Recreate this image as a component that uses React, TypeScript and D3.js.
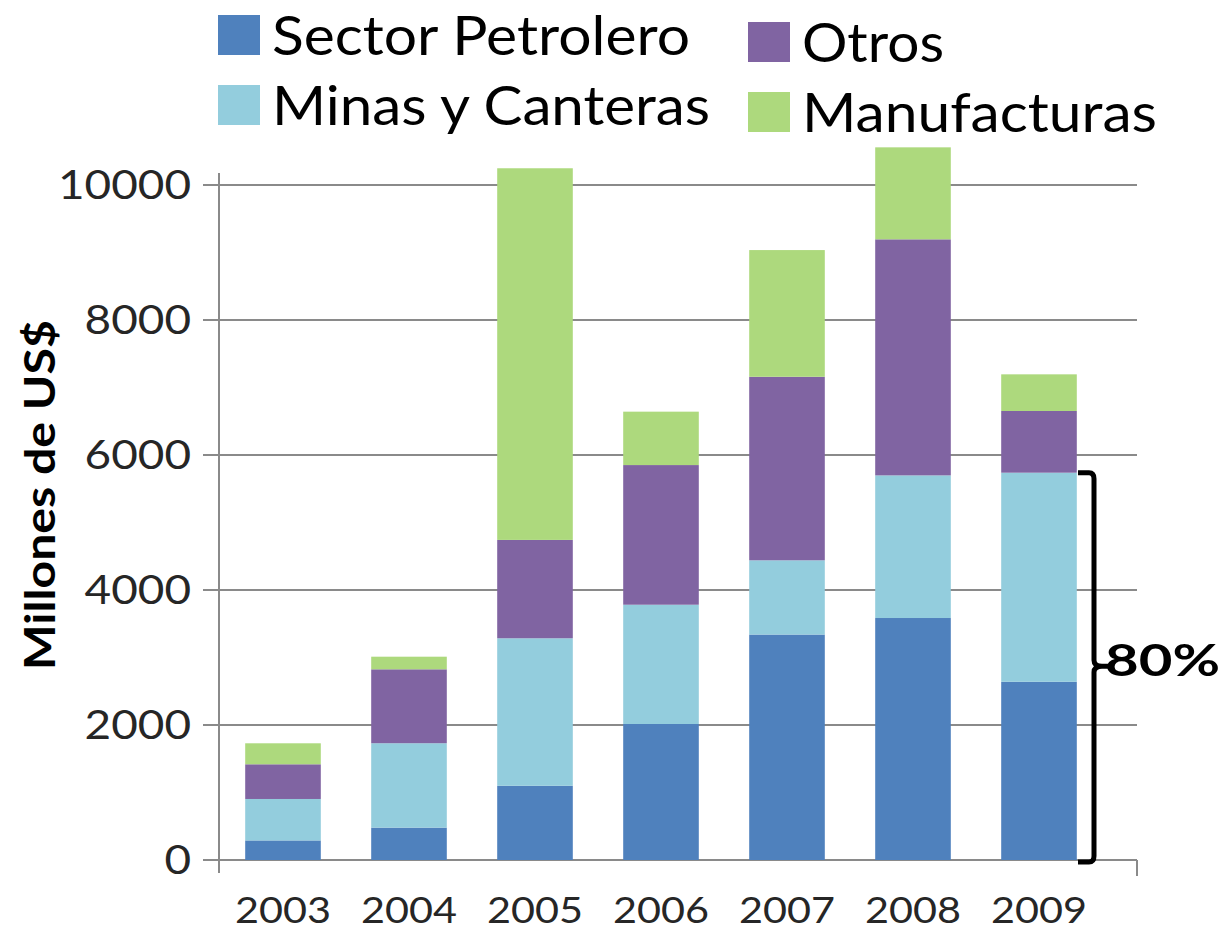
import React, { useEffect, useRef } from "react";
import * as d3 from "d3";

const years = ["2003", "2004", "2005", "2006", "2007", "2008", "2009"];
const seriesNames = ["Sector Petrolero", "Minas y Canteras", "Otros", "Manufacturas"];
const sectorPetrolero = [290, 480, 1100, 2015, 3340, 3585, 2640];
const minasCanteras = [614, 1250, 2185, 1767, 1100, 2113, 3098];
const otros = [514, 1095, 1457, 2069, 2719, 3497, 914];
const manufacturas = [311, 187, 5506, 791, 1877, 1363, 543];
const colors = ["#4F81BD", "#93CDDD", "#8064A2", "#ADD97D"];
const yTicks = [0, 2000, 4000, 6000, 8000, 10000];
const bracketLabel = "80%";

const FONT = "Lato, 'Open Sans', sans-serif";

export default function App() {
  const ref = useRef<SVGSVGElement | null>(null);

  useEffect(() => {
    const svg = d3.select(ref.current);
    svg.selectAll("*").remove();

    const values = [sectorPetrolero, minasCanteras, otros, manufacturas];
    const rows = years.map((y, i) => {
      const r: any = { year: y };
      seriesNames.forEach((s, k) => (r[s] = values[k][i]));
      return r;
    });
    const stacked = d3.stack().keys(seriesNames)(rows);

    const x = d3.scaleBand().domain(years).range([220, 1102]).paddingInner(0.4).paddingOuter(0.2);
    const y = d3.scaleLinear().domain([0, 10000]).range([860, 185]);
    const left = 219, right = 1137;

    // gridlines
    svg.append("g")
      .selectAll("line")
      .data(yTicks)
      .join("line")
      .attr("x1", left - 16)
      .attr("x2", right)
      .attr("y1", d => y(d))
      .attr("y2", d => y(d))
      .attr("stroke", "#8a8a8a")
      .attr("stroke-width", 2);

    // axis lines
    svg.append("line")
      .attr("x1", left).attr("x2", left)
      .attr("y1", 173).attr("y2", 873)
      .attr("stroke", "#8a8a8a").attr("stroke-width", 2);
    svg.append("line")
      .attr("x1", right).attr("x2", right)
      .attr("y1", 860).attr("y2", 876)
      .attr("stroke", "#8a8a8a").attr("stroke-width", 2);

    // bars
    svg.append("g")
      .selectAll("g")
      .data(stacked)
      .join("g")
      .attr("fill", (d, i) => colors[i])
      .selectAll("rect")
      .data(d => d)
      .join("rect")
      .attr("x", d => x(d.data.year as string)!)
      .attr("width", x.bandwidth())
      .attr("y", d => y(d[1]))
      .attr("height", d => y(d[0]) - y(d[1]));

    // y tick labels
    svg.append("g")
      .selectAll("text")
      .data(yTicks)
      .join("text")
      .attr("x", 191)
      .attr("y", d => y(d))
      .attr("dy", "0.36em")
      .attr("text-anchor", "end")
      .attr("font-family", FONT)
      .attr("font-size", 40)
      .attr("fill", "#262626")
      .attr("textLength", d => String(d).length * 26.6)
      .attr("lengthAdjust", "spacingAndGlyphs")
      .text(d => String(d));

    // x labels
    svg.append("g")
      .selectAll("text")
      .data(years)
      .join("text")
      .attr("x", d => x(d)! + x.bandwidth() / 2)
      .attr("y", 910)
      .attr("dy", "0.36em")
      .attr("text-anchor", "middle")
      .attr("font-family", FONT)
      .attr("font-size", 37)
      .attr("fill", "#262626")
      .attr("textLength", 96)
      .attr("lengthAdjust", "spacingAndGlyphs")
      .text(d => d);

    // y title
    svg.append("text")
      .attr("transform", "translate(55,495) rotate(-90)")
      .attr("text-anchor", "middle")
      .attr("font-family", FONT)
      .attr("font-weight", "bold")
      .attr("font-size", 42)
      .attr("fill", "#000")
      .attr("textLength", 350)
      .attr("lengthAdjust", "spacingAndGlyphs")
      .text("Millones de US$");

    // legend
    const legendPos = [
      [218, 15], [218, 85], [748, 22], [748, 92]
    ];
    const legendWidths = [418, 438, 142, 355];
    const lg = svg.append("g");
    seriesNames.forEach((s, i) => {
      const [lx, ly] = legendPos[i];
      lg.append("rect").attr("x", lx).attr("y", ly).attr("width", 42).attr("height", 40).attr("fill", colors[i]);
      lg.append("text")
        .attr("x", lx + 54)
        .attr("y", ly + 40)
        .attr("font-family", FONT)
        .attr("font-size", 54)
        .attr("fill", "#000")
        .attr("textLength", legendWidths[i])
        .attr("lengthAdjust", "spacingAndGlyphs")
        .text(s);
    });

    // bracket for last year (Sector + Minas)
    const last = years.length - 1;
    const topV = sectorPetrolero[last] + minasCanteras[last];
    const yTop = y(topV), yBot = y(0);
    const bx = 1094;
    const yMid = yBot - (yBot - yTop) * 0.5;
    const path = d3.path();
    path.moveTo(bx - 16, yTop);
    path.lineTo(bx - 5, yTop);
    path.quadraticCurveTo(bx, yTop, bx, yTop + 6);
    path.lineTo(bx, yMid - 6);
    path.quadraticCurveTo(bx, yMid, bx + 8, yMid);
    path.lineTo(bx + 18, yMid);
    path.moveTo(bx + 8, yMid);
    path.quadraticCurveTo(bx, yMid, bx, yMid + 6);
    path.lineTo(bx, yBot - 4);
    path.quadraticCurveTo(bx, yBot + 2, bx - 5, yBot + 2);
    path.lineTo(bx - 16, yBot + 2);
    svg.append("path")
      .attr("d", path.toString())
      .attr("fill", "none")
      .attr("stroke", "#000")
      .attr("stroke-width", 5);

    svg.append("text")
      .attr("x", 1105)
      .attr("y", yMid - 6)
      .attr("dy", "0.36em")
      .attr("font-family", FONT)
      .attr("font-weight", "bold")
      .attr("font-size", 44)
      .attr("fill", "#000")
      .attr("textLength", 115)
      .attr("lengthAdjust", "spacingAndGlyphs")
      .text(bracketLabel);
  }, []);

  return (
    <svg
      ref={ref}
      width={1229}
      height={931}
      style={{ position: "absolute", left: 0, top: 0, background: "#fff" }}
    />
  );
}
